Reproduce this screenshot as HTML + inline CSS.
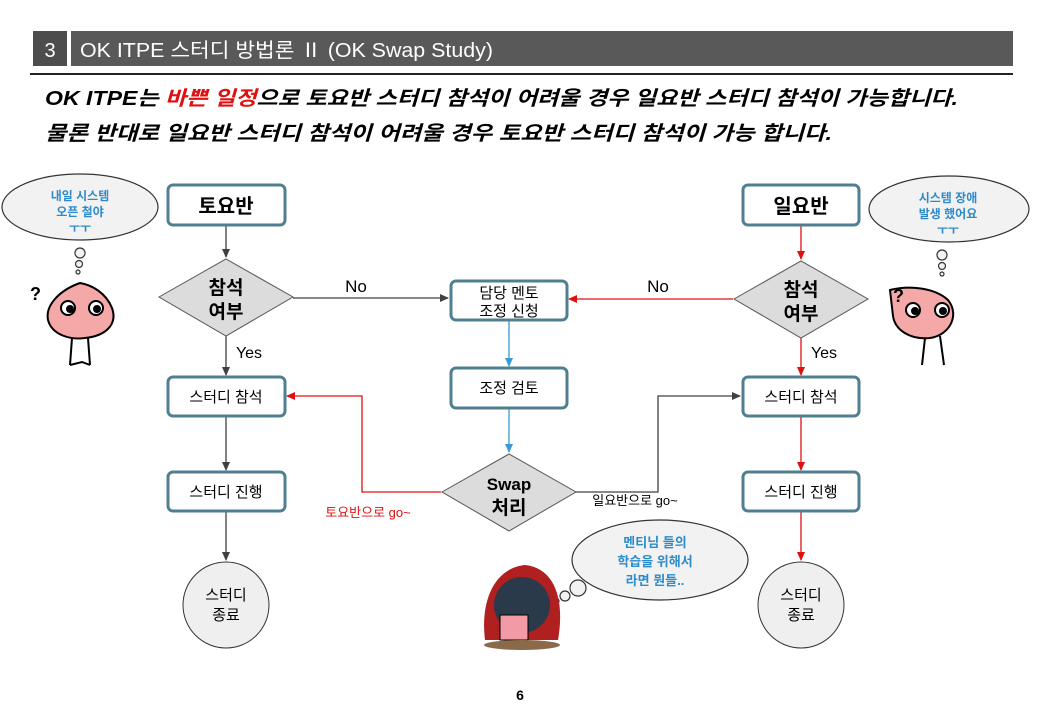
<!DOCTYPE html>
<html><head><meta charset="utf-8"><style>
body{margin:0;background:#fff;}
svg{display:block;font-family:"Liberation Sans","Noto Sans CJK KR",sans-serif;}
</style></head><body>
<svg width="1040" height="720" viewBox="0 0 1040 720">
<defs>
<marker id="ak" markerWidth="10" markerHeight="10" refX="8" refY="5" orient="auto" markerUnits="userSpaceOnUse"><path d="M0,1 L9,5 L0,9 z" fill="#404040"/></marker>
<marker id="ar" markerWidth="10" markerHeight="10" refX="8" refY="5" orient="auto" markerUnits="userSpaceOnUse"><path d="M0,1 L9,5 L0,9 z" fill="#e01010"/></marker>
<marker id="ab" markerWidth="10" markerHeight="10" refX="8" refY="5" orient="auto" markerUnits="userSpaceOnUse"><path d="M0,1 L9,5 L0,9 z" fill="#3a9ad6"/></marker>
</defs>
<!-- header -->
<rect x="33" y="31" width="34" height="35" fill="#4d4d4d"/>
<text x="50" y="57" fill="#fff" font-size="20" text-anchor="middle">3</text>
<rect x="71" y="31" width="942" height="35" fill="#595959"/>
<text x="80" y="57" fill="#fff" font-size="20" textLength="413" lengthAdjust="spacingAndGlyphs">OK ITPE 스터디 방법론 Ⅱ (OK Swap Study)</text>
<rect x="30" y="73" width="983" height="2" fill="#222"/>
<text x="45" y="105" font-size="20" font-weight="bold" font-style="italic" textLength="913" lengthAdjust="spacingAndGlyphs">OK ITPE는 <tspan fill="#e01010">바쁜 일정</tspan>으로 토요반 스터디 참석이 어려울 경우 일요반 스터디 참석이 가능합니다.</text>
<text x="45" y="140" font-size="20" font-weight="bold" font-style="italic" textLength="787" lengthAdjust="spacingAndGlyphs">물론 반대로 일요반 스터디 참석이 어려울 경우 토요반 스터디 참석이 가능 합니다.</text>

<g stroke="#404040" stroke-width="1.3" fill="none">
<line x1="226" y1="226" x2="226" y2="257" marker-end="url(#ak)"/>
<line x1="226" y1="336" x2="226" y2="375" marker-end="url(#ak)"/>
<line x1="226" y1="417" x2="226" y2="470" marker-end="url(#ak)"/>
<line x1="226" y1="512" x2="226" y2="560" marker-end="url(#ak)"/>
<line x1="293" y1="298" x2="448" y2="298" marker-end="url(#ak)"/>
<polyline points="575,492 658,492 658,396 740,396" marker-end="url(#ak)"/>
</g>
<g stroke="#e01010" stroke-width="1.3" fill="none">
<line x1="801" y1="226" x2="801" y2="259" marker-end="url(#ar)"/>
<line x1="801" y1="338" x2="801" y2="375" marker-end="url(#ar)"/>
<line x1="801" y1="417" x2="801" y2="470" marker-end="url(#ar)"/>
<line x1="801" y1="512" x2="801" y2="560" marker-end="url(#ar)"/>
<line x1="733" y1="299" x2="569" y2="299" marker-end="url(#ar)"/>
<polyline points="441,492 362,492 362,396 287,396" marker-end="url(#ar)"/>
</g>
<g stroke="#3a9ad6" stroke-width="1.3" fill="none">
<line x1="509" y1="321" x2="509" y2="366" marker-end="url(#ab)"/>
<line x1="509" y1="409" x2="509" y2="452" marker-end="url(#ab)"/>
</g>

<g fill="#fff" stroke="#4f7f91" stroke-width="3">
<rect x="168" y="185" width="117" height="40" rx="5"/>
<rect x="168" y="377" width="117" height="39" rx="5"/>
<rect x="168" y="472" width="117" height="39" rx="5"/>
<rect x="451" y="281" width="116" height="39" rx="5"/>
<rect x="451" y="368" width="116" height="40" rx="5"/>
<rect x="743" y="185" width="116" height="40" rx="5"/>
<rect x="743" y="377" width="116" height="39" rx="5"/>
<rect x="743" y="472" width="116" height="39" rx="5"/>
</g>
<g fill="#dcdcdc" stroke="#555" stroke-width="1">
<polygon points="159,297 226,259 293,297 226,336"/>
<polygon points="734,299 801,261 868,299 801,338"/>
<polygon points="442,492 509,454 576,492 509,531"/>
</g>
<g fill="#efefef" stroke="#333" stroke-width="1">
<circle cx="226" cy="605" r="43"/>
<circle cx="801" cy="605" r="43"/>
</g>

<g font-size="15" text-anchor="middle" fill="#000">
<text x="226" y="213" font-size="20" font-weight="bold">토요반</text>
<text x="801" y="213" font-size="20" font-weight="bold">일요반</text>
<text x="226" y="294" font-size="19" font-weight="bold">참석</text>
<text x="226" y="318" font-size="19" font-weight="bold">여부</text>
<text x="801" y="296" font-size="19" font-weight="bold">참석</text>
<text x="801" y="320" font-size="19" font-weight="bold">여부</text>
<text x="509" y="490" font-size="17" font-weight="bold">Swap</text>
<text x="509" y="514" font-size="19" font-weight="bold">처리</text>
<text x="226" y="402">스터디 참석</text>
<text x="226" y="497">스터디 진행</text>
<text x="801" y="402">스터디 참석</text>
<text x="801" y="497">스터디 진행</text>
<text x="509" y="298">담당 멘토</text>
<text x="509" y="316">조정 신청</text>
<text x="509" y="393">조정 검토</text>
<text x="226" y="600">스터디</text>
<text x="226" y="620">종료</text>
<text x="801" y="600">스터디</text>
<text x="801" y="620">종료</text>
<text x="356" y="292" font-size="17">No</text>
<text x="658" y="292" font-size="17">No</text>
<text x="249" y="358" font-size="16">Yes</text>
<text x="824" y="358" font-size="16">Yes</text>
<text x="368" y="517" font-size="13" fill="#e01010">토요반으로 go~</text>
<text x="635" y="505" font-size="13">일요반으로 go~</text>
<text x="520" y="700" font-size="14" font-weight="bold">6</text>
</g>

<g fill="#f2f2f2" stroke="#333" stroke-width="1.2">
<ellipse cx="80" cy="207" rx="78" ry="33"/>
<circle cx="80" cy="253" r="5"/><circle cx="79" cy="264" r="3.5"/><circle cx="78" cy="272" r="2"/>
<ellipse cx="949" cy="209" rx="80" ry="33"/>
<circle cx="942" cy="255" r="5"/><circle cx="942" cy="266" r="3.5"/><circle cx="942" cy="274" r="2"/>
<ellipse cx="660" cy="560" rx="88" ry="40"/>
<circle cx="578" cy="588" r="8"/><circle cx="565" cy="596" r="5"/><circle cx="556" cy="601" r="3"/>
</g>
<g font-size="12" text-anchor="middle" fill="#2e8bc9" font-weight="bold">
<text x="80" y="200">내일 시스템</text><text x="80" y="216">오픈 철야</text><text x="80" y="232">ㅜㅜ</text>
<text x="948" y="202">시스템 장애</text><text x="948" y="218">발생 했어요</text><text x="948" y="234">ㅜㅜ</text>
<text x="655" y="547" font-size="13">멘티님 들의</text><text x="655" y="566" font-size="13">학습을 위해서</text><text x="655" y="585" font-size="13">라면 뭔들..</text>
</g>

<g stroke="#000" stroke-width="2">
<path d="M80,283 C60,290 45,305 48,320 C52,335 70,340 85,338 C105,336 118,325 112,308 C106,293 92,285 80,283z" fill="#f5a8a8"/>
<path d="M72,338 L70,365 M88,338 L90,365 M70,365 L82,362 L90,365" fill="none"/>
<circle cx="68" cy="308" r="7" fill="#fff"/><circle cx="96" cy="308" r="7" fill="#fff"/>
<circle cx="70" cy="309" r="3" fill="#000"/><circle cx="97" cy="309" r="3" fill="#000"/>
<path d="M890,290 C910,285 935,288 948,300 C960,315 950,335 930,338 C910,340 895,330 893,316z" fill="#f5a8a8"/>
<path d="M925,338 L922,365 M940,336 L944,365" fill="none"/>
<circle cx="913" cy="310" r="7" fill="#fff"/><circle cx="942" cy="310" r="7" fill="#fff"/>
<circle cx="915" cy="311" r="3" fill="#000"/><circle cx="943" cy="311" r="3" fill="#000"/>
</g>
<text x="30" y="300" font-size="18" font-weight="bold">?</text>
<text x="893" y="302" font-size="18" font-weight="bold">?</text>
<path d="M485,640 C480,600 495,568 525,565 C555,568 565,600 558,640 Z" fill="#b02020"/>
<circle cx="522" cy="605" r="28" fill="#2a3a4a"/>
<rect x="500" y="615" width="28" height="25" fill="#f29aa5" stroke="#000"/>
<ellipse cx="522" cy="645" rx="38" ry="5" fill="#8a6a4a"/>
</svg>
</body></html>
